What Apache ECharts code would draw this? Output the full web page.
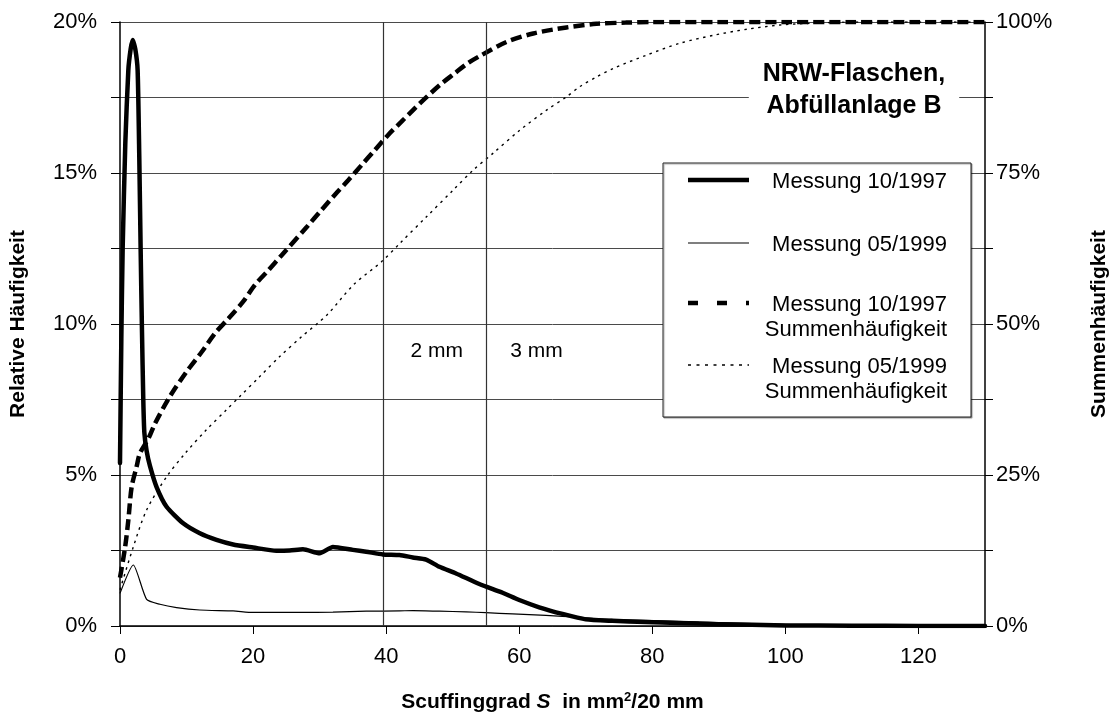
<!DOCTYPE html>
<html><head><meta charset="utf-8">
<script src="https://cdn.jsdelivr.net/npm/echarts@6/dist/echarts.min.js"></script>
<style>html,body{margin:0;padding:0;background:#fff}#c{width:1115px;height:722px}</style>
</head><body><div id="c"></div>
<script>
// ---- data ----
const xTicks = [0, 20, 40, 60, 80, 100, 120];
const seriesNames = ['Messung 10/1997', 'Messung 05/1999', 'Messung 10/1997\nSummenhäufigkeit', 'Messung 05/1999\nSummenhäufigkeit'];

const rel1997X = [0, 0.2, 0.4, 0.8, 1.25, 1.6, 1.9, 2.3, 2.65, 2.9, 3.1, 3.3, 3.5, 3.66, 4, 4.5, 5.5, 7, 9.5, 12, 14.5, 17, 20, 23.5, 25.5, 27.5, 30, 32, 35, 37, 39.5, 42, 44, 46, 48, 50.5, 54, 57.5, 60, 63, 66.5, 70, 74, 79, 84, 90, 100, 110, 120, 130];
const rel1997Y = [5.4, 9.5, 12.5, 16.0, 18.4, 19.1, 19.4, 19.1, 18.4, 15.5, 12.5, 9.8, 7.5, 6.4, 5.8, 5.3, 4.6, 3.95, 3.4, 3.07, 2.85, 2.7, 2.6, 2.49, 2.5, 2.54, 2.41, 2.62, 2.52, 2.46, 2.37, 2.35, 2.27, 2.2, 1.96, 1.74, 1.39, 1.1, 0.86, 0.62, 0.4, 0.22, 0.17, 0.13, 0.1, 0.06, 0.02, 0.01, 0, 0];

const rel1999X = [0, 2, 4, 6, 8.5, 12, 17, 20, 27, 32, 37, 42, 44, 48, 52, 55, 59, 64, 69, 74, 80, 87, 95, 102, 110, 120, 130];
const rel1999Y = [1.08, 2.02, 0.88, 0.72, 0.61, 0.53, 0.5, 0.45, 0.45, 0.46, 0.49, 0.5, 0.51, 0.49, 0.47, 0.44, 0.4, 0.35, 0.29, 0.22, 0.18, 0.13, 0.08, 0.04, 0.01, 0, 0];

const cum1997X = [0, 0.75, 1.25, 1.75, 2.5, 3, 4.3, 5.3, 7.5, 10, 12.3, 14.3, 16.3, 18.5, 20.3, 22.3, 24.3, 28.1, 30.3, 32.3, 34.3, 36.3, 38.3, 40.3, 42.3, 44.3, 46.1, 48.1, 50.3, 52.3, 54.3, 58.1, 62.1, 67.1, 71.6, 76, 80, 90, 100, 110, 120, 130];
const cum1997Y = [8, 12.9, 17.5, 23, 26.4, 28.6, 31.1, 33.6, 38, 42.1, 45.4, 48.5, 50.9, 53.7, 56.5, 58.9, 61.4, 66.1, 68.9, 71.4, 73.8, 76.3, 78.8, 81.3, 83.5, 85.7, 87.6, 89.6, 91.5, 93.2, 94.5, 96.7, 98.1, 99.1, 99.7, 99.9, 100, 100, 100, 100, 100, 100];

const cum1999X = [0, 2, 4, 7, 9.8, 13, 16, 18, 21, 24, 27.3, 31.1, 35.1, 39.3, 42.1, 46.1, 50.1, 53.1, 56.1, 60.1, 64.1, 67.1, 69.1, 71.6, 74.1, 79.1, 84.2, 89.2, 94.2, 99.2, 104.2, 110, 120, 130];
const cum1999Y = [6, 13.1, 19.2, 24.7, 28.6, 32.5, 35.8, 38, 41.3, 44.6, 47.9, 51.5, 56.5, 60.3, 63.4, 67.8, 72.2, 75.5, 78.3, 82.1, 85.4, 87.6, 89.3, 90.9, 92.3, 94.5, 96.5, 97.8, 98.8, 99.5, 99.8, 100, 100, 100];

const refLinesX = [39.5, 55];
const refLabels = ['2 mm', '3 mm'];
const refLabelPos = [[47.6, 9.1], [62.6, 9.1]];
const annotation = 'NRW-Flaschen,\nAbfüllanlage B';

// ---- build ----
const zip = (xs, ys) => xs.map((x, i) => [x, ys[i]]);
const FONT = '"Liberation Sans", Arial, Helvetica, sans-serif';
const chart = echarts.init(document.getElementById('c'), null, {renderer: 'canvas'});

const legendItems = [
  {y: 180, style: {stroke: '#000', lineWidth: 4.5}},
  {y: 243, style: {stroke: '#000', lineWidth: 1.2}},
  {y: 303, style: {stroke: '#000', lineWidth: 4.5, lineDash: [10, 19]}},
  {y: 365, style: {stroke: '#000', lineWidth: 1.5, lineDash: [3, 5.5]}}
];
const legendGraphics = [{
  type: 'rect', z: 100,
  shape: {x: 663, y: 163, width: 308, height: 254},
  style: {fill: '#fff', stroke: '#222', lineWidth: 1, shadowColor: 'rgba(0,0,0,0.35)', shadowOffsetX: 1, shadowOffsetY: 1, shadowBlur: 1}
}];
legendItems.forEach((it, i) => {
  legendGraphics.push({type: 'line', z: 101, shape: {x1: 688, y1: it.y, x2: 749, y2: it.y}, style: it.style});
  legendGraphics.push({
    type: 'text', z: 101, x: 947, y: it.y - 11,
    style: {text: seriesNames[i], align: 'right', textAlign: 'right', verticalAlign: 'top', textVerticalAlign: 'top',
      fontSize: 22, fontFamily: FONT, fill: '#000', lineHeight: 25}
  });
});

const option = {
  backgroundColor: '#fff',
  animation: false,
  textStyle: {fontFamily: FONT},
  grid: {left: 120, right: 130, top: 22, bottom: 96, containLabel: false, outerBoundsMode: 'none'},
  xAxis: {
    type: 'value', min: 0, max: 130, interval: 20,
    name: '{b|Scuffinggrad }{i|S}{b|  in mm}{sup|2}{b|/20 mm}',
    nameLocation: 'middle', nameGap: 65,
    nameTextStyle: {
      rich: {
        b: {fontSize: 21, fontWeight: 'bold', fontFamily: FONT, color: '#000'},
        i: {fontSize: 21, fontWeight: 'bold', fontStyle: 'italic', fontFamily: FONT, color: '#000'},
        sup: {fontSize: 13, fontWeight: 'bold', fontFamily: FONT, color: '#000', verticalAlign: 'top', padding: [0, 0, 10, 0]}
      }
    },
    axisLine: {show: true, lineStyle: {color: '#000', width: 1.5}},
    axisTick: {show: true, inside: false, length: 8, customValues: xTicks, lineStyle: {color: '#000'}},
    axisLabel: {customValues: xTicks, fontSize: 22, color: '#000', margin: 20, fontFamily: FONT},
    splitLine: {show: false}
  },
  yAxis: [{
    type: 'value', min: 0, max: 20, interval: 2.5, position: 'left',
    name: 'Relative Häufigkeit', nameLocation: 'middle', nameRotate: 90, nameGap: 91,
    nameTextStyle: {fontSize: 21, fontWeight: 'bold', color: '#000', fontFamily: FONT},
    axisLine: {show: true, lineStyle: {color: '#000', width: 1.5}},
    axisTick: {show: true, inside: false, length: 9, lineStyle: {color: '#000'}},
    axisLabel: {fontSize: 22, color: '#000', margin: 23, fontFamily: FONT,
      formatter: v => (Math.abs(v % 5) < 1e-9 ? v + '%' : '')},
    splitLine: {show: true, lineStyle: {color: '#4a4a4a', width: 1}}
  }, {
    type: 'value', min: 0, max: 100, interval: 12.5, position: 'right',
    name: 'Summenhäufigkeit', nameLocation: 'middle', nameRotate: 90, nameGap: 104,
    nameTextStyle: {fontSize: 21, fontWeight: 'bold', color: '#000', fontFamily: FONT},
    axisLine: {show: true, onZero: false, lineStyle: {color: '#000', width: 1.5}},
    axisTick: {show: true, inside: false, length: 8, lineStyle: {color: '#000'}},
    axisLabel: {fontSize: 22, color: '#000', margin: 11, fontFamily: FONT,
      formatter: v => (Math.abs(v % 25) < 1e-9 ? v + '%' : '')},
    splitLine: {show: false}
  }],
  series: [{
    name: seriesNames[0], type: 'line', yAxisIndex: 0, showSymbol: false, symbol: 'none',
    smooth: 0.2, data: zip(rel1997X, rel1997Y),
    lineStyle: {color: '#000', width: 4.5, join: 'round', cap: 'round'}, z: 5,
    markLine: {
      silent: true, symbol: 'none', label: {show: false},
      lineStyle: {color: '#333', width: 1.2, type: 'solid'},
      data: refLinesX.map(x => ({xAxis: x}))
    },
    markPoint: {
      silent: true, symbol: 'circle', symbolSize: 1,
      itemStyle: {color: 'rgba(0,0,0,0)'},
      label: {show: true, position: 'inside', color: '#000', fontSize: 21, fontFamily: FONT},
      data: refLabels.map((t, i) => ({coord: refLabelPos[i], value: t, label: {formatter: t}}))
    }
  }, {
    name: seriesNames[1], type: 'line', yAxisIndex: 0, showSymbol: false, symbol: 'none',
    smooth: 0.2, data: zip(rel1999X, rel1999Y),
    lineStyle: {color: '#000', width: 1.2}, z: 4
  }, {
    name: seriesNames[2], type: 'line', yAxisIndex: 1, showSymbol: false, symbol: 'none',
    smooth: 0.3, data: zip(cum1997X, cum1997Y),
    lineStyle: {color: '#000', width: 4.5, type: [11, 5], cap: 'butt'}, z: 4
  }, {
    name: seriesNames[3], type: 'line', yAxisIndex: 1, showSymbol: false, symbol: 'none',
    smooth: 0.3, data: zip(cum1999X, cum1999Y),
    lineStyle: {color: '#000', width: 1.4, type: [2.5, 4.5], cap: 'butt'}, z: 4
  }],
  graphic: legendGraphics.concat([{
    type: 'text', z: 101, x: 854, y: 55,
    style: {text: annotation, align: 'center', textAlign: 'center', verticalAlign: 'top', textVerticalAlign: 'top',
      fontSize: 25, fontWeight: 'bold', fontFamily: FONT, fill: '#000', lineHeight: 32,
      backgroundColor: '#fff', padding: [3, 14, 3, 14]}
  }])
};
chart.setOption(option);
</script>
</body></html>
